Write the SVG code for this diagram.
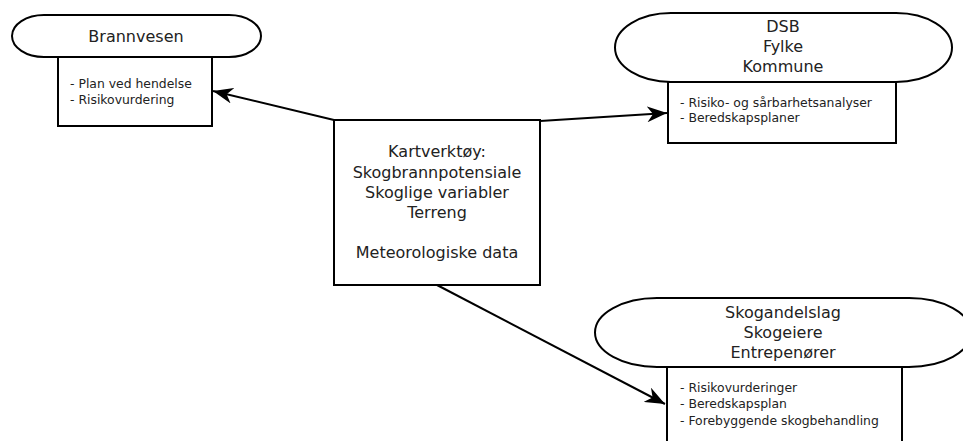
<svg xmlns="http://www.w3.org/2000/svg" width="963" height="441" viewBox="0 0 963 441">
<style>
.shape{fill:#fff;stroke:#000;stroke-width:2}
.t{font-family:"DejaVu Sans",sans-serif;font-size:16px;fill:#222;text-anchor:middle}
.l{font-family:"DejaVu Sans",sans-serif;font-size:12.4px;fill:#222}
.c{fill:none;stroke:#000;stroke-width:2}
</style>
<defs>
<marker id="ah" markerUnits="userSpaceOnUse" markerWidth="22" markerHeight="16" refX="20" refY="8" orient="auto" viewBox="0 0 22 16">
<path d="M0,0 L20,8 L0,16 L6,8 Z" fill="#000"/>
</marker>
</defs>
<g id="brannvesen">
<rect class="shape" x="12" y="15" width="249" height="42" rx="32" ry="21"/>
<rect class="shape" x="58" y="57" width="154" height="69"/>
<text class="t" x="136" y="42">Brannvesen</text>
<text class="l" x="70" y="88">- Plan ved hendelse</text>
<text class="l" x="70" y="104">- Risikovurdering</text>
</g>
<g id="dsb">
<rect class="shape" x="615" y="13" width="337" height="69" rx="56" ry="34.5"/>
<rect class="shape" x="668" y="82" width="228" height="61"/>
<text class="t" x="783" y="32">DSB</text>
<text class="t" x="783" y="52">Fylke</text>
<text class="t" x="783" y="72">Kommune</text>
<text class="l" x="680" y="107">- Risiko- og sårbarhetsanalyser</text>
<text class="l" x="680" y="122">- Beredskapsplaner</text>
</g>
<g id="kartverktoy">
<rect class="shape" x="334" y="120" width="206" height="165"/>
<text class="t" x="437" y="157">Kartverktøy:</text>
<text class="t" x="437" y="178">Skogbrannpotensiale</text>
<text class="t" x="437" y="198">Skoglige variabler</text>
<text class="t" x="437" y="218">Terreng</text>
<text class="t" x="437" y="258">Meteorologiske data</text>
</g>
<g id="skogandelslag">
<rect class="shape" x="595" y="298" width="376" height="69" rx="62" ry="34.5"/>
<rect class="shape" x="667" y="367" width="235" height="80"/>
<text class="t" x="783" y="318">Skogandelslag</text>
<text class="t" x="783" y="338">Skogeiere</text>
<text class="t" x="783" y="358">Entrepenører</text>
<text class="l" x="680" y="392">- Risikovurderinger</text>
<text class="l" x="680" y="408">- Beredskapsplan</text>
<text class="l" x="680" y="425">- Forebyggende skogbehandling</text>
</g>
<g id="connectors">
<path class="c" d="M334,120 L213,91" marker-end="url(#ah)"/>
<path class="c" d="M540,121 L667,113" marker-end="url(#ah)"/>
<path class="c" d="M437,285 L665,404" marker-end="url(#ah)"/>
</g>
</svg>
